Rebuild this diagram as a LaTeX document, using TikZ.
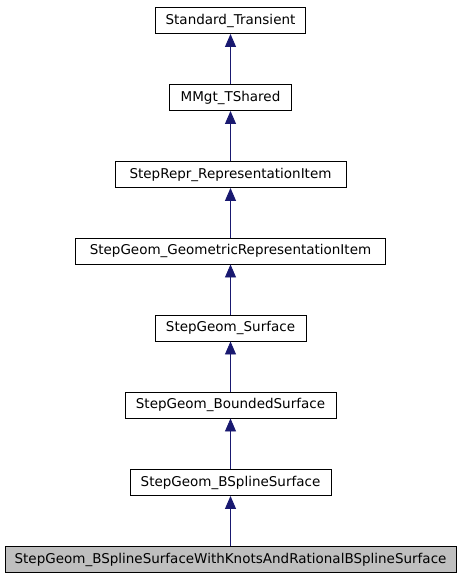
\documentclass[tikz,border=0pt]{standalone}
\usepackage{fontspec}
\setmainfont{DejaVu Sans}
\usetikzlibrary{arrows.meta}
\definecolor{edgeblue}{RGB}{25,25,112}
\begin{document}
\begin{tikzpicture}[x=1pt,y=-1pt,
  cls/.style={draw=black,fill=white,line width=0.9pt,minimum height=26pt,inner sep=0pt,font=\fontsize{13.5}{16}\selectfont},
  cur/.style={cls,fill=black!25},
  inh/.style={draw=edgeblue,line width=0.9pt,-{Triangle[length=13pt,width=11pt]}}]
\useasboundingbox (0,0) rectangle (461,581);
\node[cls,minimum width=150pt] (st) at (230.5,20.5) {Standard\_Transient};
\node[cls,minimum width=122pt] (mm) at (230.5,97.5) {MMgt\_TShared};
\node[cls,minimum width=231pt] (sr) at (230.5,174.5) {StepRepr\_RepresentationItem};
\node[cls,minimum width=310pt] (gr) at (230.5,251) {StepGeom\_GeometricRepresentationItem};
\node[cls,minimum width=151pt] (ss) at (230.5,328) {StepGeom\_Surface};
\node[cls,minimum width=211pt] (bs) at (230.5,405) {StepGeom\_BoundedSurface};
\node[cls,minimum width=201pt] (bss) at (230.5,482.5) {StepGeom\_BSplineSurface};
\node[cur,minimum width=451pt] (cur) at (230.5,559.5) {StepGeom\_BSplineSurfaceWithKnotsAndRationalBSplineSurface};
\draw[inh] (mm) -- (st);
\draw[inh] (sr) -- (mm);
\draw[inh] (gr) -- (sr);
\draw[inh] (ss) -- (gr);
\draw[inh] (bs) -- (ss);
\draw[inh] (bss) -- (bs);
\draw[inh] (cur) -- (bss);
\end{tikzpicture}
\end{document}
